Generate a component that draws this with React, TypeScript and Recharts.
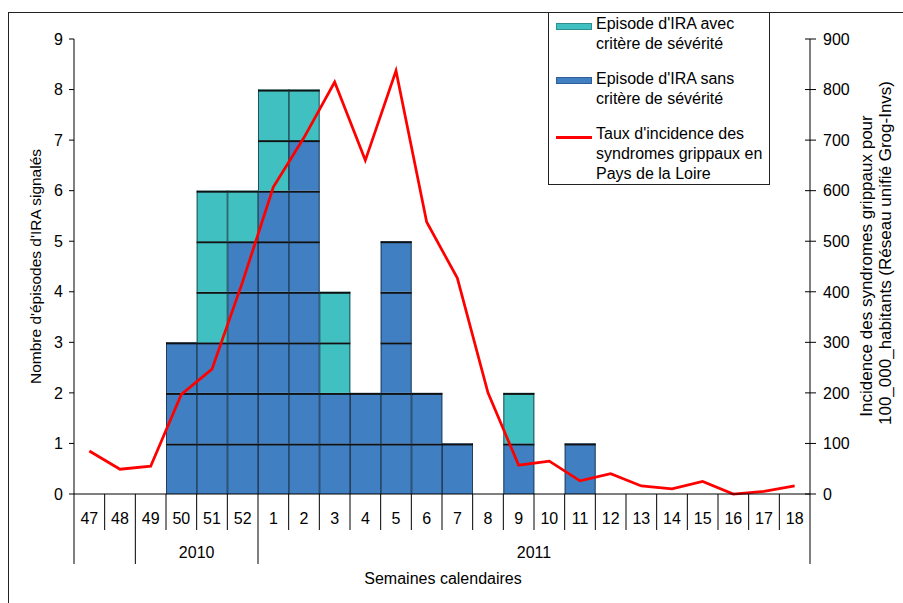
import { Bar, ComposedChart, Legend, Line, XAxis, YAxis } from "recharts";

// semaines calendaires
const weeks = ["47", "48", "49", "50", "51", "52", "1", "2", "3", "4", "5", "6",
  "7", "8", "9", "10", "11", "12", "13", "14", "15", "16", "17", "18"];
// épisodes d'IRA
const sansCritere = [0, 0, 0, 3, 3, 5, 6, 7, 2, 2, 5, 2, 1, 0, 1, 0, 1, 0, 0, 0, 0, 0, 0, 0];
const avecCritere = [0, 0, 0, 0, 3, 1, 2, 1, 2, 0, 0, 0, 0, 0, 1, 0, 0, 0, 0, 0, 0, 0, 0, 0];
// taux d'incidence (pour 100 000 hab.)
const incidence = [85, 49, 55, 197, 247, 420, 607, 705, 815, 660, 837, 538, 427, 200, 57, 65,
  26, 40, 16, 10, 25, 0, 5, 16];
// second niveau de l'axe : années et nombre de semaines couvertes
const years = ["", "2010", "2011"];
const yearSpans = [2, 4, 18];

const leftTicks = [0, 1, 2, 3, 4, 5, 6, 7, 8, 9];
const rightTicks = [0, 100, 200, 300, 400, 500, 600, 700, 800, 900];

const BLUE = "#4080C2";
const TEAL = "#40C0C0";
const RED = "#FF0000";
const FONT = "'Liberation Sans', Arial, sans-serif";

const data = weeks.map((w, i) => ({
  week: w,
  sans: sansCritere[i],
  avec: avecCritere[i],
  taux: incidence[i],
}));

const groupStarts: Record<number, { label: string; span: number }> = {};
{
  let s = 0;
  years.forEach((y, i) => {
    groupStarts[s] = { label: y, span: yearSpans[i] };
    s += yearSpans[i];
  });
}

const W = 903;
const H = 603;
const LEFT_W = 74;
const RIGHT_W = 93;
const TOP = 39;
const PLOT_W = W - LEFT_W - RIGHT_W;
const BW = PLOT_W / weeks.length;

// barre découpée en blocs d'un épisode
function UnitBar(props: any) {
  const { x, y, width, height, payload, k, fill } = props;
  const n = payload?.[k] ?? 0;
  if (!n || height <= 0) return null;
  const h = height / n;
  const cells = [];
  for (let i = 0; i < n; i++) {
    const top = y + height - (i + 1) * h;
    cells.push(
      <g key={i}>
        <rect x={x} y={top} width={width} height={h} fill={fill} />
        <line x1={x + 0.5} x2={x + 0.5} y1={top} y2={top + h} stroke="#1b2a38" strokeOpacity={0.75} />
        <line x1={x + width - 0.5} x2={x + width - 0.5} y1={top} y2={top + h} stroke="#1b2a38" strokeOpacity={0.75} />
        <line x1={x} x2={x + width} y1={top + 1} y2={top + 1} stroke="#111" strokeWidth={2} />
      </g>
    );
  }
  return <g>{cells}</g>;
}

function WeekTick(props: any) {
  const { x, y, payload } = props;
  const i = payload.index;
  const left = x - BW / 2;
  const g = groupStarts[i];
  const last = i === weeks.length - 1;
  return (
    <g>
      <line x1={left} x2={left} y1={y} y2={g ? y + 70 : y + 36} stroke="#000" />
      {last && <line x1={left + BW} x2={left + BW} y1={y} y2={y + 70} stroke="#000" />}
      <text x={x} y={y + 30} textAnchor="middle" fontSize={16} fontFamily={FONT} fill="#000">
        {payload.value}
      </text>
      {g && g.label && (
        <text x={left + (g.span * BW) / 2} y={y + 64} textAnchor="middle" fontSize={16}
              fontFamily={FONT} fill="#000">
          {g.label}
        </text>
      )}
    </g>
  );
}

function RightTick(props: any) {
  const { x, y, payload } = props;
  return (
    <g>
      <line x1={x - 5} x2={x + 6} y1={y} y2={y} stroke="#000" />
      <text x={x + 13} y={y} dy="0.36em" fontSize={16} fontFamily={FONT} fill="#000">
        {payload.value}
      </text>
    </g>
  );
}

function LegendBox() {
  const txt: React.CSSProperties = {
    position: "absolute", left: 47, fontSize: 16, lineHeight: "20px",
    fontFamily: FONT, color: "#000", whiteSpace: "nowrap",
  };
  return (
    <div style={{ position: "relative", width: 222, height: 173, border: "1px solid #222",
                  background: "#fff", boxSizing: "border-box" }}>
      <div style={{ position: "absolute", left: 7, top: 10, width: 36, height: 7, background: TEAL,
                    border: "1px solid #2f8f8f", boxSizing: "border-box" }} />
      <div style={{ ...txt, top: 1 }}>Episode d'IRA avec<br />critère de sévérité</div>
      <div style={{ position: "absolute", left: 7, top: 64, width: 36, height: 7, background: BLUE,
                    border: "1px solid #2d5d92", boxSizing: "border-box" }} />
      <div style={{ ...txt, top: 56 }}>Episode d'IRA sans<br />critère de sévérité</div>
      <div style={{ position: "absolute", left: 7, top: 123, width: 36, height: 3, background: RED }} />
      <div style={{ ...txt, top: 111 }}>
        Taux d'incidence des<br />syndromes grippaux en<br />Pays de la Loire
      </div>
    </div>
  );
}

export default function App() {
  return (
    <div style={{ position: "absolute", left: 0, top: 0, width: W, height: H, overflow: "hidden",
                  background: "#fff", fontFamily: FONT }}>
      <div style={{ position: "absolute", left: 8, top: 12, width: W, height: H,
                    borderLeft: "1px solid #222", borderTop: "1px solid #222" }} />
      <div style={{ position: "absolute", left: 0, top: 0 }}>
        <ComposedChart width={W} height={H} data={data} barCategoryGap={0} barGap={0}
                       margin={{ top: TOP, right: 0, bottom: 0, left: 0 }}>
          <XAxis dataKey="week" xAxisId={0} height={109} interval={0} tickSize={0} tickMargin={0}
                 tickLine={false} axisLine={{ stroke: "#000" }} tick={<WeekTick />}
                 label={{
                   content: (p: any) => (
                     <text x={443} y={p.viewBox.y + 90} textAnchor="middle" fontSize={16}
                           fontFamily={FONT} fill="#000">Semaines calendaires</text>
                   ),
                 }} />
          <YAxis yAxisId="left" orientation="left" width={LEFT_W} domain={[0, 9]} ticks={leftTicks}
                 interval={0} tickSize={5} tickMargin={6} axisLine={{ stroke: "#000" }}
                 tickLine={{ stroke: "#000" }}
                 tick={{ fontSize: 16, fontFamily: FONT, fill: "#000" }}
                 label={{
                   content: (p: any) => {
                     const cy = p.viewBox.y + p.viewBox.height / 2;
                     return (
                       <text x={41} y={cy} transform={`rotate(-90, 41, ${cy})`} textAnchor="middle"
                             fontSize={15.5} fontFamily={FONT} fill="#000">
                         Nombre d'épisodes d'IRA signalés
                       </text>
                     );
                   },
                 }} />
          <YAxis yAxisId="right" orientation="right" width={RIGHT_W} domain={[0, 900]}
                 ticks={rightTicks} interval={0} tickSize={0} tickMargin={0}
                 axisLine={{ stroke: "#000" }} tickLine={false} tick={<RightTick />}
                 label={{
                   content: (p: any) => {
                     const bx = p.viewBox.x;
                     return (
                       <g fontSize={17} fontFamily={FONT} fill="#000">
                         <text x={bx + 62} y={266} transform={`rotate(-90, ${bx + 62}, 266)`}
                               textAnchor="middle">Incidence des syndromes grippaux pour</text>
                         <text x={bx + 81} y={253} transform={`rotate(-90, ${bx + 81}, 253)`}
                               textAnchor="middle">100_000_habitants (Réseau unifié Grog-Invs)</text>
                       </g>
                     );
                   },
                 }} />
          <Legend layout="vertical" verticalAlign="middle" align="center"
                  wrapperStyle={{ left: 548, top: 12, width: 222, height: 173 }}
                  content={() => <LegendBox />} />
          <Bar yAxisId="left" dataKey="sans" stackId="ira" fill={BLUE} isAnimationActive={false}
               shape={(p: any) => <UnitBar {...p} k="sans" fill={BLUE} />} />
          <Bar yAxisId="left" dataKey="avec" stackId="ira" fill={TEAL} isAnimationActive={false}
               shape={(p: any) => <UnitBar {...p} k="avec" fill={TEAL} />} />
          <Line yAxisId="right" dataKey="taux" type="linear" stroke={RED} strokeWidth={2.75}
                dot={false} activeDot={false} isAnimationActive={false} />
        </ComposedChart>
      </div>
    </div>
  );
}
